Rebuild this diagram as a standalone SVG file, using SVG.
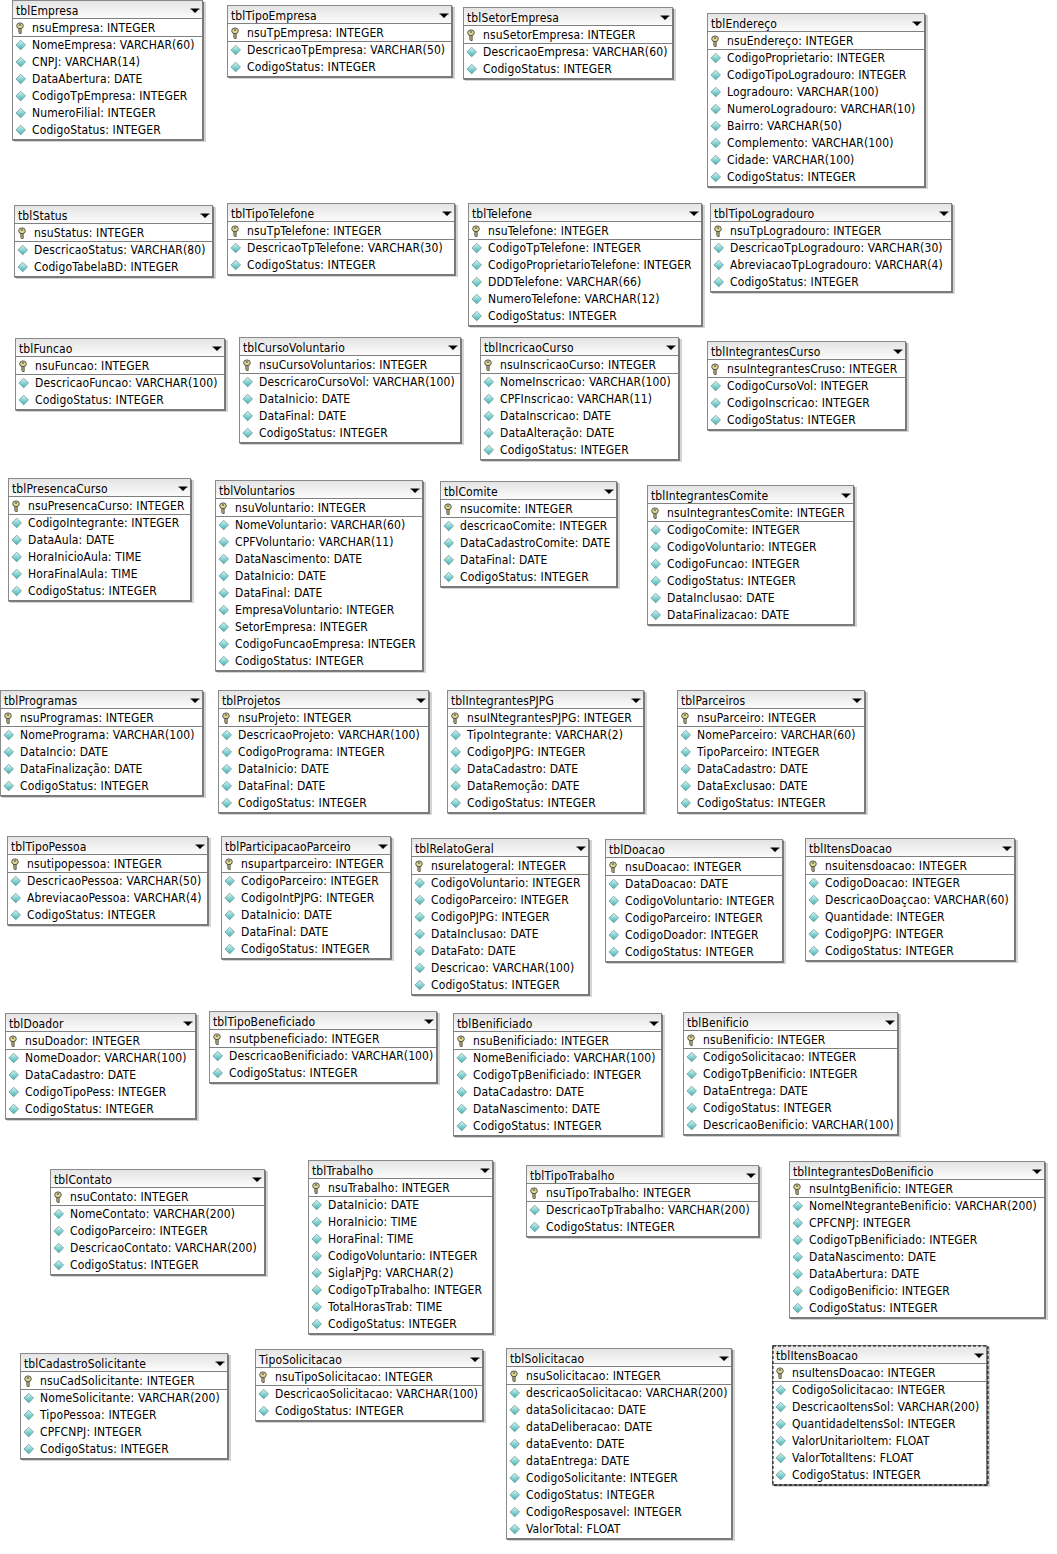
<svg xmlns="http://www.w3.org/2000/svg" xmlns:xlink="http://www.w3.org/1999/xlink" width="1057" height="1554" viewBox="0 0 1057 1554">
<style>
text{font-family:"DejaVu Sans",Tahoma,"Liberation Sans",sans-serif;font-stretch:condensed;font-size:12px;letter-spacing:.12px;fill:#000}
text:first-of-type{transform:translateY(1px)}
.s{fill:#d4d4d4;transform:translate(1px,1px)}
.b{fill:#fff;stroke:#8a8a8a;stroke-width:1}
.h{fill:url(#hg)}
.l{fill:none;stroke:#808080;stroke-width:1}
.e{fill:none;stroke:#7a7a7a;stroke-width:2;transform:translate(.5px,.5px)}
.dash{fill:none;stroke:#000;stroke-width:1;stroke-dasharray:3 2;transform:translate(.5px,.5px)}
</style>
<defs>
<linearGradient id="hg" x1="0" y1="0" x2="0" y2="1"><stop offset="0" stop-color="#e4e4e4"/><stop offset="1" stop-color="#fbfbfb"/></linearGradient>
<linearGradient id="dg" x1="0" y1="0" x2="0" y2="1"><stop offset="0" stop-color="#d8f6f6"/><stop offset="1" stop-color="#3fb0b0"/></linearGradient>
<path id="a" d="M-4.5 -1.5H4.5V-.5H3.5L0 3L-3.500 -.5H-4.5Z" fill="#000"/>
<g id="k"><path d="M6.800 16H9.200V23.500H7.500L6.800 22.500Z" fill="#b8ad6a" stroke="#444" stroke-width=".8"/><ellipse cx="8" cy="15.800" rx="3.300" ry="2.900" fill="#e0d88c" stroke="#444" stroke-width=".9"/><ellipse cx="8" cy="15" rx="1.300" ry=".8" fill="#555"/></g>
<path id="d" d="M8.700 -4.800L13.500 0L8.700 4.800L3.900 0Z" fill="url(#dg)" stroke="#5f8f8f" stroke-width=".7"/>
<g id="d2"><use xlink:href="#d" y="35"/><use xlink:href="#d" y="52"/></g>
<g id="d3"><use xlink:href="#d2"/><use xlink:href="#d" y="69"/></g>
<g id="d4"><use xlink:href="#d3"/><use xlink:href="#d" y="86"/></g>
<g id="d5"><use xlink:href="#d4"/><use xlink:href="#d" y="103"/></g>
<g id="d6"><use xlink:href="#d5"/><use xlink:href="#d" y="120"/></g>
<g id="d7"><use xlink:href="#d6"/><use xlink:href="#d" y="137"/></g>
<g id="d8"><use xlink:href="#d7"/><use xlink:href="#d" y="154"/></g>
<g id="d9"><use xlink:href="#d8"/><use xlink:href="#d" y="171"/></g>
</defs>
<rect width="1057" height="1554" fill="#fff"/>
<g id="connectors"/>

<g id="tblEmpresa" transform="translate(12,10)"><rect class="s" x="1" y="-9" width="192" height="140"/><rect class="b" x=".5" y="-9.500" width="190" height="139"/><rect class="h" x="1" y="-9" width="189" height="17"/><path class="l" d="M0 8.500H190M0 26.500H190"/><path class="e" d="M190.500 -9V129.500H0"/><use xlink:href="#a" x="183"/><use xlink:href="#k"/><use xlink:href="#d6"/><text x="4" y="4">tblEmpresa</text><text x="20" y="22">nsuEmpresa: INTEGER</text><text x="20" y="39">NomeEmpresa: VARCHAR(60)</text><text x="20" y="56">CNPJ: VARCHAR(14)</text><text x="20" y="73">DataAbertura: DATE</text><text x="20" y="90">CodigoTpEmpresa: INTEGER</text><text x="20" y="107">NumeroFilial: INTEGER</text><text x="20" y="124">CodigoStatus: INTEGER</text></g>

<g id="tblTipoEmpresa" transform="translate(227,15)"><rect class="s" x="1" y="-9" width="226" height="72"/><rect class="b" x=".5" y="-9.500" width="224" height="71"/><rect class="h" x="1" y="-9" width="223" height="17"/><path class="l" d="M0 8.500H224M0 26.500H224"/><path class="e" d="M224.500 -9V61.500H0"/><use xlink:href="#a" x="217"/><use xlink:href="#k"/><use xlink:href="#d2"/><text x="4" y="4">tblTipoEmpresa</text><text x="20" y="22">nsuTpEmpresa: INTEGER</text><text x="20" y="39">DescricaoTpEmpresa: VARCHAR(50)</text><text x="20" y="56">CodigoStatus: INTEGER</text></g>

<g id="tblSetorEmpresa" transform="translate(463,17)"><rect class="s" x="1" y="-9" width="211" height="72"/><rect class="b" x=".5" y="-9.500" width="209" height="71"/><rect class="h" x="1" y="-9" width="208" height="17"/><path class="l" d="M0 8.500H209M0 26.500H209"/><path class="e" d="M209.500 -9V61.500H0"/><use xlink:href="#a" x="202"/><use xlink:href="#k"/><use xlink:href="#d2"/><text x="4" y="4">tblSetorEmpresa</text><text x="20" y="22">nsuSetorEmpresa: INTEGER</text><text x="20" y="39">DescricaoEmpresa: VARCHAR(60)</text><text x="20" y="56">CodigoStatus: INTEGER</text></g>

<g id="tblEndereco" transform="translate(707,23)"><rect class="s" x="1" y="-9" width="219" height="174"/><rect class="b" x=".5" y="-9.500" width="217" height="173"/><rect class="h" x="1" y="-9" width="216" height="17"/><path class="l" d="M0 8.500H217M0 26.500H217"/><path class="e" d="M217.500 -9V163.500H0"/><use xlink:href="#a" x="210"/><use xlink:href="#k"/><use xlink:href="#d8"/><text x="4" y="4">tblEndereço</text><text x="20" y="22">nsuEndereço: INTEGER</text><text x="20" y="39">CodigoProprietario: INTEGER</text><text x="20" y="56">CodigoTipoLogradouro: INTEGER</text><text x="20" y="73">Logradouro: VARCHAR(100)</text><text x="20" y="90">NumeroLogradouro: VARCHAR(10)</text><text x="20" y="107">Bairro: VARCHAR(50)</text><text x="20" y="124">Complemento: VARCHAR(100)</text><text x="20" y="141">Cidade: VARCHAR(100)</text><text x="20" y="158">CodigoStatus: INTEGER</text></g>

<g id="tblStatus" transform="translate(14,215)"><rect class="s" x="1" y="-9" width="200" height="72"/><rect class="b" x=".5" y="-9.500" width="198" height="71"/><rect class="h" x="1" y="-9" width="197" height="17"/><path class="l" d="M0 8.500H198M0 26.500H198"/><path class="e" d="M198.500 -9V61.500H0"/><use xlink:href="#a" x="191"/><use xlink:href="#k"/><use xlink:href="#d2"/><text x="4" y="4">tblStatus</text><text x="20" y="22">nsuStatus: INTEGER</text><text x="20" y="39">DescricaoStatus: VARCHAR(80)</text><text x="20" y="56">CodigoTabelaBD: INTEGER</text></g>

<g id="tblTipoTelefone" transform="translate(227,213)"><rect class="s" x="1" y="-9" width="229" height="72"/><rect class="b" x=".5" y="-9.500" width="227" height="71"/><rect class="h" x="1" y="-9" width="226" height="17"/><path class="l" d="M0 8.500H227M0 26.500H227"/><path class="e" d="M227.500 -9V61.500H0"/><use xlink:href="#a" x="220"/><use xlink:href="#k"/><use xlink:href="#d2"/><text x="4" y="4">tblTipoTelefone</text><text x="20" y="22">nsuTpTelefone: INTEGER</text><text x="20" y="39">DescricaoTpTelefone: VARCHAR(30)</text><text x="20" y="56">CodigoStatus: INTEGER</text></g>

<g id="tblTelefone" transform="translate(468,213)"><rect class="s" x="1" y="-9" width="235" height="123"/><rect class="b" x=".5" y="-9.500" width="233" height="122"/><rect class="h" x="1" y="-9" width="232" height="17"/><path class="l" d="M0 8.500H233M0 26.500H233"/><path class="e" d="M233.500 -9V112.500H0"/><use xlink:href="#a" x="226"/><use xlink:href="#k"/><use xlink:href="#d5"/><text x="4" y="4">tblTelefone</text><text x="20" y="22">nsuTelefone: INTEGER</text><text x="20" y="39">CodigoTpTelefone: INTEGER</text><text x="20" y="56">CodigoProprietarioTelefone: INTEGER</text><text x="20" y="73">DDDTelefone: VARCHAR(66)</text><text x="20" y="90">NumeroTelefone: VARCHAR(12)</text><text x="20" y="107">CodigoStatus: INTEGER</text></g>

<g id="tblTipoLogradouro" transform="translate(710,213)"><rect class="s" x="1" y="-9" width="243" height="89"/><rect class="b" x=".5" y="-9.500" width="241" height="88"/><rect class="h" x="1" y="-9" width="240" height="17"/><path class="l" d="M0 8.500H241M0 26.500H241"/><path class="e" d="M241.500 -9V78.500H0"/><use xlink:href="#a" x="234"/><use xlink:href="#k"/><use xlink:href="#d3"/><text x="4" y="4">tblTipoLogradouro</text><text x="20" y="22">nsuTpLogradouro: INTEGER</text><text x="20" y="39">DescricaoTpLogradouro: VARCHAR(30)</text><text x="20" y="56">AbreviacaoTpLogradouro: VARCHAR(4)</text><text x="20" y="73">CodigoStatus: INTEGER</text></g>

<g id="tblFuncao" transform="translate(15,348)"><rect class="s" x="1" y="-9" width="211" height="72"/><rect class="b" x=".5" y="-9.500" width="209" height="71"/><rect class="h" x="1" y="-9" width="208" height="17"/><path class="l" d="M0 8.500H209M0 26.500H209"/><path class="e" d="M209.500 -9V61.500H0"/><use xlink:href="#a" x="202"/><use xlink:href="#k"/><use xlink:href="#d2"/><text x="4" y="4">tblFuncao</text><text x="20" y="22">nsuFuncao: INTEGER</text><text x="20" y="39">DescricaoFuncao: VARCHAR(100)</text><text x="20" y="56">CodigoStatus: INTEGER</text></g>

<g id="tblCursoVoluntario" transform="translate(239,347)"><rect class="s" x="1" y="-9" width="223" height="106"/><rect class="b" x=".5" y="-9.500" width="221" height="105"/><rect class="h" x="1" y="-9" width="220" height="17"/><path class="l" d="M0 8.500H221M0 26.500H221"/><path class="e" d="M221.500 -9V95.500H0"/><use xlink:href="#a" x="214"/><use xlink:href="#k"/><use xlink:href="#d4"/><text x="4" y="4">tblCursoVoluntario</text><text x="20" y="22">nsuCursoVoluntarios: INTEGER</text><text x="20" y="39">DescricaroCursoVol: VARCHAR(100)</text><text x="20" y="56">DataInicio: DATE</text><text x="20" y="73">DataFinal: DATE</text><text x="20" y="90">CodigoStatus: INTEGER</text></g>

<g id="tblIncricaoCurso" transform="translate(480,347)"><rect class="s" x="1" y="-9" width="200" height="123"/><rect class="b" x=".5" y="-9.500" width="198" height="122"/><rect class="h" x="1" y="-9" width="197" height="17"/><path class="l" d="M0 8.500H198M0 26.500H198"/><path class="e" d="M198.500 -9V112.500H0"/><use xlink:href="#a" x="191"/><use xlink:href="#k"/><use xlink:href="#d5"/><text x="4" y="4">tblIncricaoCurso</text><text x="20" y="22">nsuInscricaoCurso: INTEGER</text><text x="20" y="39">NomeInscricao: VARCHAR(100)</text><text x="20" y="56">CPFInscricao: VARCHAR(11)</text><text x="20" y="73">DataInscricao: DATE</text><text x="20" y="90">DataAlteração: DATE</text><text x="20" y="107">CodigoStatus: INTEGER</text></g>

<g id="tblIntegrantesCurso" transform="translate(707,351)"><rect class="s" x="1" y="-9" width="200" height="89"/><rect class="b" x=".5" y="-9.500" width="198" height="88"/><rect class="h" x="1" y="-9" width="197" height="17"/><path class="l" d="M0 8.500H198M0 26.500H198"/><path class="e" d="M198.500 -9V78.500H0"/><use xlink:href="#a" x="191"/><use xlink:href="#k"/><use xlink:href="#d3"/><text x="4" y="4">tblIntegrantesCurso</text><text x="20" y="22">nsuIntegrantesCruso: INTEGER</text><text x="20" y="39">CodigoCursoVol: INTEGER</text><text x="20" y="56">CodigoInscricao: INTEGER</text><text x="20" y="73">CodigoStatus: INTEGER</text></g>

<g id="tblPresencaCurso" transform="translate(8,488)"><rect class="s" x="1" y="-9" width="184" height="123"/><rect class="b" x=".5" y="-9.500" width="182" height="122"/><rect class="h" x="1" y="-9" width="181" height="17"/><path class="l" d="M0 8.500H182M0 26.500H182"/><path class="e" d="M182.500 -9V112.500H0"/><use xlink:href="#a" x="175"/><use xlink:href="#k"/><use xlink:href="#d5"/><text x="4" y="4">tblPresencaCurso</text><text x="20" y="22">nsuPresencaCurso: INTEGER</text><text x="20" y="39">CodigoIntegrante: INTEGER</text><text x="20" y="56">DataAula: DATE</text><text x="20" y="73">HoraInicioAula: TIME</text><text x="20" y="90">HoraFinalAula: TIME</text><text x="20" y="107">CodigoStatus: INTEGER</text></g>

<g id="tblVoluntarios" transform="translate(215,490)"><rect class="s" x="1" y="-9" width="209" height="191"/><rect class="b" x=".5" y="-9.500" width="207" height="190"/><rect class="h" x="1" y="-9" width="206" height="17"/><path class="l" d="M0 8.500H207M0 26.500H207"/><path class="e" d="M207.500 -9V180.500H0"/><use xlink:href="#a" x="200"/><use xlink:href="#k"/><use xlink:href="#d9"/><text x="4" y="4">tblVoluntarios</text><text x="20" y="22">nsuVoluntario: INTEGER</text><text x="20" y="39">NomeVoluntario: VARCHAR(60)</text><text x="20" y="56">CPFVoluntario: VARCHAR(11)</text><text x="20" y="73">DataNascimento: DATE</text><text x="20" y="90">DataInicio: DATE</text><text x="20" y="107">DataFinal: DATE</text><text x="20" y="124">EmpresaVoluntario: INTEGER</text><text x="20" y="141">SetorEmpresa: INTEGER</text><text x="20" y="158">CodigoFuncaoEmpresa: INTEGER</text><text x="20" y="175">CodigoStatus: INTEGER</text></g>

<g id="tblComite" transform="translate(440,491)"><rect class="s" x="1" y="-9" width="178" height="106"/><rect class="b" x=".5" y="-9.500" width="176" height="105"/><rect class="h" x="1" y="-9" width="175" height="17"/><path class="l" d="M0 8.500H176M0 26.500H176"/><path class="e" d="M176.500 -9V95.500H0"/><use xlink:href="#a" x="169"/><use xlink:href="#k"/><use xlink:href="#d4"/><text x="4" y="4">tblComite</text><text x="20" y="22">nsucomite: INTEGER</text><text x="20" y="39">descricaoComite: INTEGER</text><text x="20" y="56">DataCadastroComite: DATE</text><text x="20" y="73">DataFinal: DATE</text><text x="20" y="90">CodigoStatus: INTEGER</text></g>

<g id="tblIntegrantesComite" transform="translate(647,495)"><rect class="s" x="1" y="-9" width="208" height="140"/><rect class="b" x=".5" y="-9.500" width="206" height="139"/><rect class="h" x="1" y="-9" width="205" height="17"/><path class="l" d="M0 8.500H206M0 26.500H206"/><path class="e" d="M206.500 -9V129.500H0"/><use xlink:href="#a" x="199"/><use xlink:href="#k"/><use xlink:href="#d6"/><text x="4" y="4">tblIntegrantesComite</text><text x="20" y="22">nsuIntegrantesComite: INTEGER</text><text x="20" y="39">CodigoComite: INTEGER</text><text x="20" y="56">CodigoVoluntario: INTEGER</text><text x="20" y="73">CodigoFuncao: INTEGER</text><text x="20" y="90">CodigoStatus: INTEGER</text><text x="20" y="107">DataInclusao: DATE</text><text x="20" y="124">DataFinalizacao: DATE</text></g>

<g id="tblProgramas" transform="translate(0,700)"><rect class="s" x="1" y="-9" width="204" height="106"/><rect class="b" x=".5" y="-9.500" width="202" height="105"/><rect class="h" x="1" y="-9" width="201" height="17"/><path class="l" d="M0 8.500H202M0 26.500H202"/><path class="e" d="M202.500 -9V95.500H0"/><use xlink:href="#a" x="195"/><use xlink:href="#k"/><use xlink:href="#d4"/><text x="4" y="4">tblProgramas</text><text x="20" y="22">nsuProgramas: INTEGER</text><text x="20" y="39">NomePrograma: VARCHAR(100)</text><text x="20" y="56">DataIncio: DATE</text><text x="20" y="73">DataFinalização: DATE</text><text x="20" y="90">CodigoStatus: INTEGER</text></g>

<g id="tblProjetos" transform="translate(218,700)"><rect class="s" x="1" y="-9" width="212" height="123"/><rect class="b" x=".5" y="-9.500" width="210" height="122"/><rect class="h" x="1" y="-9" width="209" height="17"/><path class="l" d="M0 8.500H210M0 26.500H210"/><path class="e" d="M210.500 -9V112.500H0"/><use xlink:href="#a" x="203"/><use xlink:href="#k"/><use xlink:href="#d5"/><text x="4" y="4">tblProjetos</text><text x="20" y="22">nsuProjeto: INTEGER</text><text x="20" y="39">DescricaoProjeto: VARCHAR(100)</text><text x="20" y="56">CodigoPrograma: INTEGER</text><text x="20" y="73">DataInicio: DATE</text><text x="20" y="90">DataFinal: DATE</text><text x="20" y="107">CodigoStatus: INTEGER</text></g>

<g id="tblIntegrantesPJPG" transform="translate(447,700)"><rect class="s" x="1" y="-9" width="198" height="123"/><rect class="b" x=".5" y="-9.500" width="196" height="122"/><rect class="h" x="1" y="-9" width="195" height="17"/><path class="l" d="M0 8.500H196M0 26.500H196"/><path class="e" d="M196.500 -9V112.500H0"/><use xlink:href="#a" x="189"/><use xlink:href="#k"/><use xlink:href="#d5"/><text x="4" y="4">tblIntegrantesPJPG</text><text x="20" y="22">nsuINtegrantesPJPG: INTEGER</text><text x="20" y="39">TipoIntegrante: VARCHAR(2)</text><text x="20" y="56">CodigoPJPG: INTEGER</text><text x="20" y="73">DataCadastro: DATE</text><text x="20" y="90">DataRemoção: DATE</text><text x="20" y="107">CodigoStatus: INTEGER</text></g>

<g id="tblParceiros" transform="translate(677,700)"><rect class="s" x="1" y="-9" width="189" height="123"/><rect class="b" x=".5" y="-9.500" width="187" height="122"/><rect class="h" x="1" y="-9" width="186" height="17"/><path class="l" d="M0 8.500H187M0 26.500H187"/><path class="e" d="M187.500 -9V112.500H0"/><use xlink:href="#a" x="180"/><use xlink:href="#k"/><use xlink:href="#d5"/><text x="4" y="4">tblParceiros</text><text x="20" y="22">nsuParceiro: INTEGER</text><text x="20" y="39">NomeParceiro: VARCHAR(60)</text><text x="20" y="56">TipoParceiro: INTEGER</text><text x="20" y="73">DataCadastro: DATE</text><text x="20" y="90">DataExclusao: DATE</text><text x="20" y="107">CodigoStatus: INTEGER</text></g>

<g id="tblTipoPessoa" transform="translate(7,846)"><rect class="s" x="1" y="-9" width="202" height="89"/><rect class="b" x=".5" y="-9.500" width="200" height="88"/><rect class="h" x="1" y="-9" width="199" height="17"/><path class="l" d="M0 8.500H200M0 26.500H200"/><path class="e" d="M200.500 -9V78.500H0"/><use xlink:href="#a" x="193"/><use xlink:href="#k"/><use xlink:href="#d3"/><text x="4" y="4">tblTipoPessoa</text><text x="20" y="22">nsutipopessoa: INTEGER</text><text x="20" y="39">DescricaoPessoa: VARCHAR(50)</text><text x="20" y="56">AbreviacaoPessoa: VARCHAR(4)</text><text x="20" y="73">CodigoStatus: INTEGER</text></g>

<g id="tblParticipacaoParceiro" transform="translate(221,846)"><rect class="s" x="1" y="-9" width="171" height="123"/><rect class="b" x=".5" y="-9.500" width="169" height="122"/><rect class="h" x="1" y="-9" width="168" height="17"/><path class="l" d="M0 8.500H169M0 26.500H169"/><path class="e" d="M169.500 -9V112.500H0"/><use xlink:href="#a" x="162"/><use xlink:href="#k"/><use xlink:href="#d5"/><text x="4" y="4">tblParticipacaoParceiro</text><text x="20" y="22">nsupartparceiro: INTEGER</text><text x="20" y="39">CodigoParceiro: INTEGER</text><text x="20" y="56">CodigoIntPJPG: INTEGER</text><text x="20" y="73">DataInicio: DATE</text><text x="20" y="90">DataFinal: DATE</text><text x="20" y="107">CodigoStatus: INTEGER</text></g>

<g id="tblRelatoGeral" transform="translate(411,848)"><rect class="s" x="1" y="-9" width="179" height="157"/><rect class="b" x=".5" y="-9.500" width="177" height="156"/><rect class="h" x="1" y="-9" width="176" height="17"/><path class="l" d="M0 8.500H177M0 26.500H177"/><path class="e" d="M177.500 -9V146.500H0"/><use xlink:href="#a" x="170"/><use xlink:href="#k"/><use xlink:href="#d7"/><text x="4" y="4">tblRelatoGeral</text><text x="20" y="22">nsurelatogeral: INTEGER</text><text x="20" y="39">CodigoVoluntario: INTEGER</text><text x="20" y="56">CodigoParceiro: INTEGER</text><text x="20" y="73">CodigoPJPG: INTEGER</text><text x="20" y="90">DataInclusao: DATE</text><text x="20" y="107">DataFato: DATE</text><text x="20" y="124">Descricao: VARCHAR(100)</text><text x="20" y="141">CodigoStatus: INTEGER</text></g>

<g id="tblDoacao" transform="translate(605,849)"><rect class="s" x="1" y="-9" width="179" height="123"/><rect class="b" x=".5" y="-9.500" width="177" height="122"/><rect class="h" x="1" y="-9" width="176" height="17"/><path class="l" d="M0 8.500H177M0 26.500H177"/><path class="e" d="M177.500 -9V112.500H0"/><use xlink:href="#a" x="170"/><use xlink:href="#k"/><use xlink:href="#d5"/><text x="4" y="4">tblDoacao</text><text x="20" y="22">nsuDoacao: INTEGER</text><text x="20" y="39">DataDoacao: DATE</text><text x="20" y="56">CodigoVoluntario: INTEGER</text><text x="20" y="73">CodigoParceiro: INTEGER</text><text x="20" y="90">CodigoDoador: INTEGER</text><text x="20" y="107">CodigoStatus: INTEGER</text></g>

<g id="tblItensDoacao" transform="translate(805,848)"><rect class="s" x="1" y="-9" width="211" height="123"/><rect class="b" x=".5" y="-9.500" width="209" height="122"/><rect class="h" x="1" y="-9" width="208" height="17"/><path class="l" d="M0 8.500H209M0 26.500H209"/><path class="e" d="M209.500 -9V112.500H0"/><use xlink:href="#a" x="202"/><use xlink:href="#k"/><use xlink:href="#d5"/><text x="4" y="4">tblItensDoacao</text><text x="20" y="22">nsuitensdoacao: INTEGER</text><text x="20" y="39">CodigoDoacao: INTEGER</text><text x="20" y="56">DescricaoDoaçcao: VARCHAR(60)</text><text x="20" y="73">Quantidade: INTEGER</text><text x="20" y="90">CodigoPJPG: INTEGER</text><text x="20" y="107">CodigoStatus: INTEGER</text></g>

<g id="tblDoador" transform="translate(5,1023)"><rect class="s" x="1" y="-9" width="192" height="106"/><rect class="b" x=".5" y="-9.500" width="190" height="105"/><rect class="h" x="1" y="-9" width="189" height="17"/><path class="l" d="M0 8.500H190M0 26.500H190"/><path class="e" d="M190.500 -9V95.500H0"/><use xlink:href="#a" x="183"/><use xlink:href="#k"/><use xlink:href="#d4"/><text x="4" y="4">tblDoador</text><text x="20" y="22">nsuDoador: INTEGER</text><text x="20" y="39">NomeDoador: VARCHAR(100)</text><text x="20" y="56">DataCadastro: DATE</text><text x="20" y="73">CodigoTipoPess: INTEGER</text><text x="20" y="90">CodigoStatus: INTEGER</text></g>

<g id="tblTipoBeneficiado" transform="translate(209,1021)"><rect class="s" x="1" y="-9" width="229" height="72"/><rect class="b" x=".5" y="-9.500" width="227" height="71"/><rect class="h" x="1" y="-9" width="226" height="17"/><path class="l" d="M0 8.500H227M0 26.500H227"/><path class="e" d="M227.500 -9V61.500H0"/><use xlink:href="#a" x="220"/><use xlink:href="#k"/><use xlink:href="#d2"/><text x="4" y="4">tblTipoBeneficiado</text><text x="20" y="22">nsutpbeneficiado: INTEGER</text><text x="20" y="39">DescricaoBenificiado: VARCHAR(100)</text><text x="20" y="56">CodigoStatus: INTEGER</text></g>

<g id="tblBenificiado" transform="translate(453,1023)"><rect class="s" x="1" y="-9" width="210" height="123"/><rect class="b" x=".5" y="-9.500" width="208" height="122"/><rect class="h" x="1" y="-9" width="207" height="17"/><path class="l" d="M0 8.500H208M0 26.500H208"/><path class="e" d="M208.500 -9V112.500H0"/><use xlink:href="#a" x="201"/><use xlink:href="#k"/><use xlink:href="#d5"/><text x="4" y="4">tblBenificiado</text><text x="20" y="22">nsuBenificiado: INTEGER</text><text x="20" y="39">NomeBenificiado: VARCHAR(100)</text><text x="20" y="56">CodigoTpBenificiado: INTEGER</text><text x="20" y="73">DataCadastro: DATE</text><text x="20" y="90">DataNascimento: DATE</text><text x="20" y="107">CodigoStatus: INTEGER</text></g>

<g id="tblBenificio" transform="translate(683,1022)"><rect class="s" x="1" y="-9" width="216" height="123"/><rect class="b" x=".5" y="-9.500" width="214" height="122"/><rect class="h" x="1" y="-9" width="213" height="17"/><path class="l" d="M0 8.500H214M0 26.500H214"/><path class="e" d="M214.500 -9V112.500H0"/><use xlink:href="#a" x="207"/><use xlink:href="#k"/><use xlink:href="#d5"/><text x="4" y="4">tblBenificio</text><text x="20" y="22">nsuBenificio: INTEGER</text><text x="20" y="39">CodigoSolicitacao: INTEGER</text><text x="20" y="56">CodigoTpBenificio: INTEGER</text><text x="20" y="73">DataEntrega: DATE</text><text x="20" y="90">CodigoStatus: INTEGER</text><text x="20" y="107">DescricaoBenificio: VARCHAR(100)</text></g>

<g id="tblContato" transform="translate(50,1179)"><rect class="s" x="1" y="-9" width="216" height="106"/><rect class="b" x=".5" y="-9.500" width="214" height="105"/><rect class="h" x="1" y="-9" width="213" height="17"/><path class="l" d="M0 8.500H214M0 26.500H214"/><path class="e" d="M214.500 -9V95.500H0"/><use xlink:href="#a" x="207"/><use xlink:href="#k"/><use xlink:href="#d4"/><text x="4" y="4">tblContato</text><text x="20" y="22">nsuContato: INTEGER</text><text x="20" y="39">NomeContato: VARCHAR(200)</text><text x="20" y="56">CodigoParceiro: INTEGER</text><text x="20" y="73">DescricaoContato: VARCHAR(200)</text><text x="20" y="90">CodigoStatus: INTEGER</text></g>

<g id="tblTrabalho" transform="translate(308,1170)"><rect class="s" x="1" y="-9" width="186" height="174"/><rect class="b" x=".5" y="-9.500" width="184" height="173"/><rect class="h" x="1" y="-9" width="183" height="17"/><path class="l" d="M0 8.500H184M0 26.500H184"/><path class="e" d="M184.500 -9V163.500H0"/><use xlink:href="#a" x="177"/><use xlink:href="#k"/><use xlink:href="#d8"/><text x="4" y="4">tblTrabalho</text><text x="20" y="22">nsuTrabalho: INTEGER</text><text x="20" y="39">DataInicio: DATE</text><text x="20" y="56">HoraInicio: TIME</text><text x="20" y="73">HoraFinal: TIME</text><text x="20" y="90">CodigoVoluntario: INTEGER</text><text x="20" y="107">SiglaPjPg: VARCHAR(2)</text><text x="20" y="124">CodigoTpTrabalho: INTEGER</text><text x="20" y="141">TotalHorasTrab: TIME</text><text x="20" y="158">CodigoStatus: INTEGER</text></g>

<g id="tblTipoTrabalho" transform="translate(526,1175)"><rect class="s" x="1" y="-9" width="234" height="72"/><rect class="b" x=".5" y="-9.500" width="232" height="71"/><rect class="h" x="1" y="-9" width="231" height="17"/><path class="l" d="M0 8.500H232M0 26.500H232"/><path class="e" d="M232.500 -9V61.500H0"/><use xlink:href="#a" x="225"/><use xlink:href="#k"/><use xlink:href="#d2"/><text x="4" y="4">tblTipoTrabalho</text><text x="20" y="22">nsuTipoTrabalho: INTEGER</text><text x="20" y="39">DescricaoTpTrabalho: VARCHAR(200)</text><text x="20" y="56">CodigoStatus: INTEGER</text></g>

<g id="tblIntegrantesDoBenificio" transform="translate(789,1171)"><rect class="s" x="1" y="-9" width="257" height="157"/><rect class="b" x=".5" y="-9.500" width="255" height="156"/><rect class="h" x="1" y="-9" width="254" height="17"/><path class="l" d="M0 8.500H255M0 26.500H255"/><path class="e" d="M255.500 -9V146.500H0"/><use xlink:href="#a" x="248"/><use xlink:href="#k"/><use xlink:href="#d7"/><text x="4" y="4">tblIntegrantesDoBenificio</text><text x="20" y="22">nsuIntgBenificio: INTEGER</text><text x="20" y="39">NomeINtegranteBenificio: VARCHAR(200)</text><text x="20" y="56">CPFCNPJ: INTEGER</text><text x="20" y="73">CodigoTpBenificiado: INTEGER</text><text x="20" y="90">DataNascimento: DATE</text><text x="20" y="107">DataAbertura: DATE</text><text x="20" y="124">CodigoBenificio: INTEGER</text><text x="20" y="141">CodigoStatus: INTEGER</text></g>

<g id="tblCadastroSolicitante" transform="translate(20,1363)"><rect class="s" x="1" y="-9" width="209" height="106"/><rect class="b" x=".5" y="-9.500" width="207" height="105"/><rect class="h" x="1" y="-9" width="206" height="17"/><path class="l" d="M0 8.500H207M0 26.500H207"/><path class="e" d="M207.500 -9V95.500H0"/><use xlink:href="#a" x="200"/><use xlink:href="#k"/><use xlink:href="#d4"/><text x="4" y="4">tblCadastroSolicitante</text><text x="20" y="22">nsuCadSolicitante: INTEGER</text><text x="20" y="39">NomeSolicitante: VARCHAR(200)</text><text x="20" y="56">TipoPessoa: INTEGER</text><text x="20" y="73">CPFCNPJ: INTEGER</text><text x="20" y="90">CodigoStatus: INTEGER</text></g>

<g id="TipoSolicitacao" transform="translate(255,1359)"><rect class="s" x="1" y="-9" width="229" height="72"/><rect class="b" x=".5" y="-9.500" width="227" height="71"/><rect class="h" x="1" y="-9" width="226" height="17"/><path class="l" d="M0 8.500H227M0 26.500H227"/><path class="e" d="M227.500 -9V61.500H0"/><use xlink:href="#a" x="220"/><use xlink:href="#k"/><use xlink:href="#d2"/><text x="4" y="4">TipoSolicitacao</text><text x="20" y="22">nsuTipoSolicitacao: INTEGER</text><text x="20" y="39">DescricaoSolicitacao: VARCHAR(100)</text><text x="20" y="56">CodigoStatus: INTEGER</text></g>

<g id="tblSolicitacao" transform="translate(506,1358)"><rect class="s" x="1" y="-9" width="227" height="191"/><rect class="b" x=".5" y="-9.500" width="225" height="190"/><rect class="h" x="1" y="-9" width="224" height="17"/><path class="l" d="M0 8.500H225M0 26.500H225"/><path class="e" d="M225.500 -9V180.500H0"/><use xlink:href="#a" x="218"/><use xlink:href="#k"/><use xlink:href="#d9"/><text x="4" y="4">tblSolicitacao</text><text x="20" y="22">nsuSolicitacao: INTEGER</text><text x="20" y="39">descricaoSolicitacao: VARCHAR(200)</text><text x="20" y="56">dataSolicitacao: DATE</text><text x="20" y="73">dataDeliberacao: DATE</text><text x="20" y="90">dataEvento: DATE</text><text x="20" y="107">dataEntrega: DATE</text><text x="20" y="124">CodigoSolicitante: INTEGER</text><text x="20" y="141">CodigoStatus: INTEGER</text><text x="20" y="158">CodigoResposavel: INTEGER</text><text x="20" y="175">ValorTotal: FLOAT</text></g>

<g id="tblItensBoacao" transform="translate(772,1355)"><rect class="s" x="1" y="-9" width="216" height="140"/><rect class="b" x=".5" y="-9.500" width="214" height="139"/><rect class="h" x="1" y="-9" width="213" height="17"/><path class="l" d="M0 8.500H214M0 26.500H214"/><path class="e" d="M214.500 -9V129.500H0"/><rect class="dash" x=".5" y="-9.500" width="215" height="139"/><use xlink:href="#a" x="207"/><use xlink:href="#k"/><use xlink:href="#d6"/><text x="4" y="4">tblItensBoacao</text><text x="20" y="22">nsuItensDoacao: INTEGER</text><text x="20" y="39">CodigoSolicitacao: INTEGER</text><text x="20" y="56">DescricaoItensSol: VARCHAR(200)</text><text x="20" y="73">QuantidadeItensSol: INTEGER</text><text x="20" y="90">ValorUnitarioItem: FLOAT</text><text x="20" y="107">ValorTotalItens: FLOAT</text><text x="20" y="124">CodigoStatus: INTEGER</text></g>
</svg>
